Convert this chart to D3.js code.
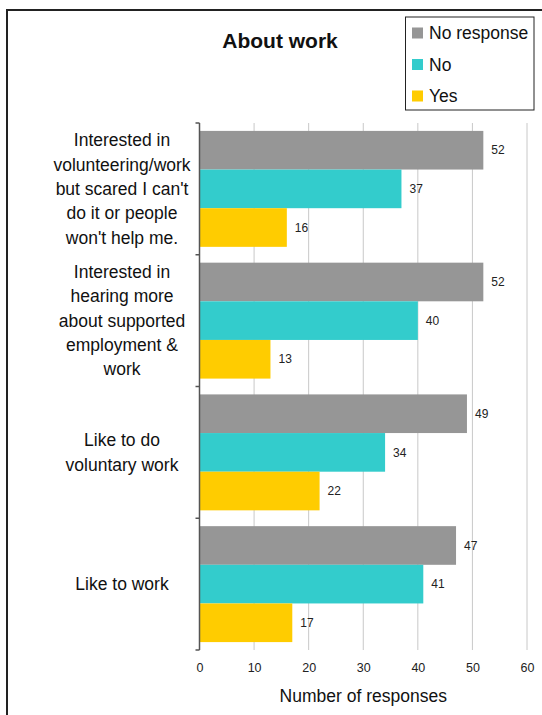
<!DOCTYPE html>
<html>
<head>
<meta charset="utf-8">
<script src="https://cdn.jsdelivr.net/npm/d3@7"></script>
<style>
  html, body { margin: 0; padding: 0; background: #fff; }
  svg { display: block; font-family: "Liberation Sans", Arial, sans-serif; }
</style>
</head>
<body>
<svg id="chart" width="542" height="715"></svg>
<script>
// Survey answers about work, grouped by question
const categories = [
  "Interested in volunteering/work but scared I can't do it or people won't help me.",
  "Interested in hearing more about supported employment & work",
  "Like to do voluntary work",
  "Like to work"
];
const categoryLines = [
  ["Interested in", "volunteering/work", "but scared I can't", "do it or people", "won't help me."],
  ["Interested in", "hearing more", "about supported", "employment &", "work"],
  ["Like to do", "voluntary work"],
  ["Like to work"]
];
const seriesNames = ["No response", "No", "Yes"];
const noResponse = [52, 52, 49, 47];
const no = [37, 40, 34, 41];
const yes = [16, 13, 22, 17];
const xTicks = [0, 10, 20, 30, 40, 50, 60];
const colors = ["#969696", "#33CCCC", "#FFCC00"];

const series = [noResponse, no, yes];

const svg = d3.select("#chart");

// outer frame (open to the right and bottom)
svg.append("path")
  .attr("d", "M7,716 L7,10 L543,10")
  .attr("fill", "none")
  .attr("stroke", "#222")
  .attr("stroke-width", 2);

const plot = { left: 199.5, right: 527, top: 123, bottom: 650 };

const x = d3.scaleLinear().domain([0, 60]).range([plot.left, plot.right]);
const y = d3.scaleBand().domain(d3.range(categories.length))
  .range([plot.top, plot.bottom]).paddingInner(0.12).paddingOuter(0.06);
const yInner = d3.scaleBand().domain(d3.range(series.length))
  .range([0, y.bandwidth()]);
const yGroup = d3.scaleBand().domain(d3.range(categories.length))
  .range([plot.top, plot.bottom]);

// vertical gridlines
svg.append("g").selectAll("line")
  .data(xTicks.filter(t => t > 0))
  .join("line")
  .attr("x1", d => x(d)).attr("x2", d => x(d))
  .attr("y1", plot.top).attr("y2", plot.bottom)
  .attr("stroke", "#c8c8c8").attr("stroke-width", 1);

// bars
const groups = svg.append("g").selectAll("g")
  .data(categories.map((c, i) => i))
  .join("g")
  .attr("transform", i => `translate(0,${y(i)})`);

groups.selectAll("rect")
  .data(i => series.map((s, k) => ({ k, v: s[i] })))
  .join("rect")
  .attr("x", x(0))
  .attr("y", d => yInner(d.k))
  .attr("width", d => x(d.v) - x(0))
  .attr("height", yInner.bandwidth())
  .attr("fill", d => colors[d.k]);

groups.selectAll("text")
  .data(i => series.map((s, k) => ({ k, v: s[i] })))
  .join("text")
  .attr("x", d => x(d.v) + 8)
  .attr("y", d => yInner(d.k) + yInner.bandwidth() / 2)
  .attr("dy", "0.35em")
  .attr("font-size", 12)
  .attr("fill", "#222")
  .text(d => d.v);

// category axis
const yAxis = svg.append("g");
yAxis.append("line")
  .attr("x1", plot.left).attr("x2", plot.left)
  .attr("y1", plot.top).attr("y2", plot.bottom)
  .attr("stroke", "#555").attr("stroke-width", 1.5);
yAxis.selectAll("line.tick")
  .data(d3.range(categories.length + 1))
  .join("line")
  .attr("class", "tick")
  .attr("x1", plot.left - 4).attr("x2", plot.left)
  .attr("y1", i => i < categories.length ? yGroup(i) : plot.bottom)
  .attr("y2", i => i < categories.length ? yGroup(i) : plot.bottom)
  .attr("stroke", "#555").attr("stroke-width", 1.5);

const labelSpacing = 24.3;
yAxis.selectAll("text")
  .data(categoryLines.flatMap((lines, i) => lines.map((t, j) => ({ t, i, j, n: lines.length }))))
  .join("text")
  .attr("x", 122)
  .attr("y", d => yGroup(d.i) + yGroup.bandwidth() / 2 + (d.j - (d.n - 1) / 2) * labelSpacing)
  .attr("dy", "0.35em")
  .attr("text-anchor", "middle")
  .attr("font-size", 17.5)
  .attr("fill", "#111")
  .text(d => d.t);

// value axis labels
const xAxis = svg.append("g")
  .attr("transform", `translate(0,${plot.bottom})`)
  .call(d3.axisBottom(x).tickValues(xTicks).tickSize(0).tickPadding(13))
  .attr("font-family", null);
xAxis.select(".domain").remove();
xAxis.selectAll("text").attr("font-size", 12.5).attr("fill", "#222");

svg.append("text")
  .attr("x", x(30))
  .attr("y", 702)
  .attr("text-anchor", "middle")
  .attr("font-size", 17.5)
  .attr("fill", "#111")
  .text("Number of responses");

// title
svg.append("text")
  .attr("x", 280)
  .attr("y", 48)
  .attr("text-anchor", "middle")
  .attr("font-size", 21)
  .attr("font-weight", "bold")
  .attr("fill", "#111")
  .text("About work");

// legend
const legend = svg.append("g");
legend.append("rect")
  .attr("x", 405.5).attr("y", 17).attr("width", 128.5).attr("height", 93)
  .attr("fill", "#fff").attr("stroke", "#222").attr("stroke-width", 1);
const legendItems = legend.selectAll("g")
  .data(seriesNames)
  .join("g")
  .attr("transform", (d, i) => `translate(412,${33 + i * 31.5})`);
legendItems.append("rect")
  .attr("x", 0).attr("y", -5.5).attr("width", 11).attr("height", 11)
  .attr("fill", (d, i) => colors[i]);
legendItems.append("text")
  .attr("x", 17).attr("y", 0).attr("dy", "0.35em")
  .attr("font-size", 17.5).attr("fill", "#111")
  .text(d => d);
</script>
</body>
</html>
